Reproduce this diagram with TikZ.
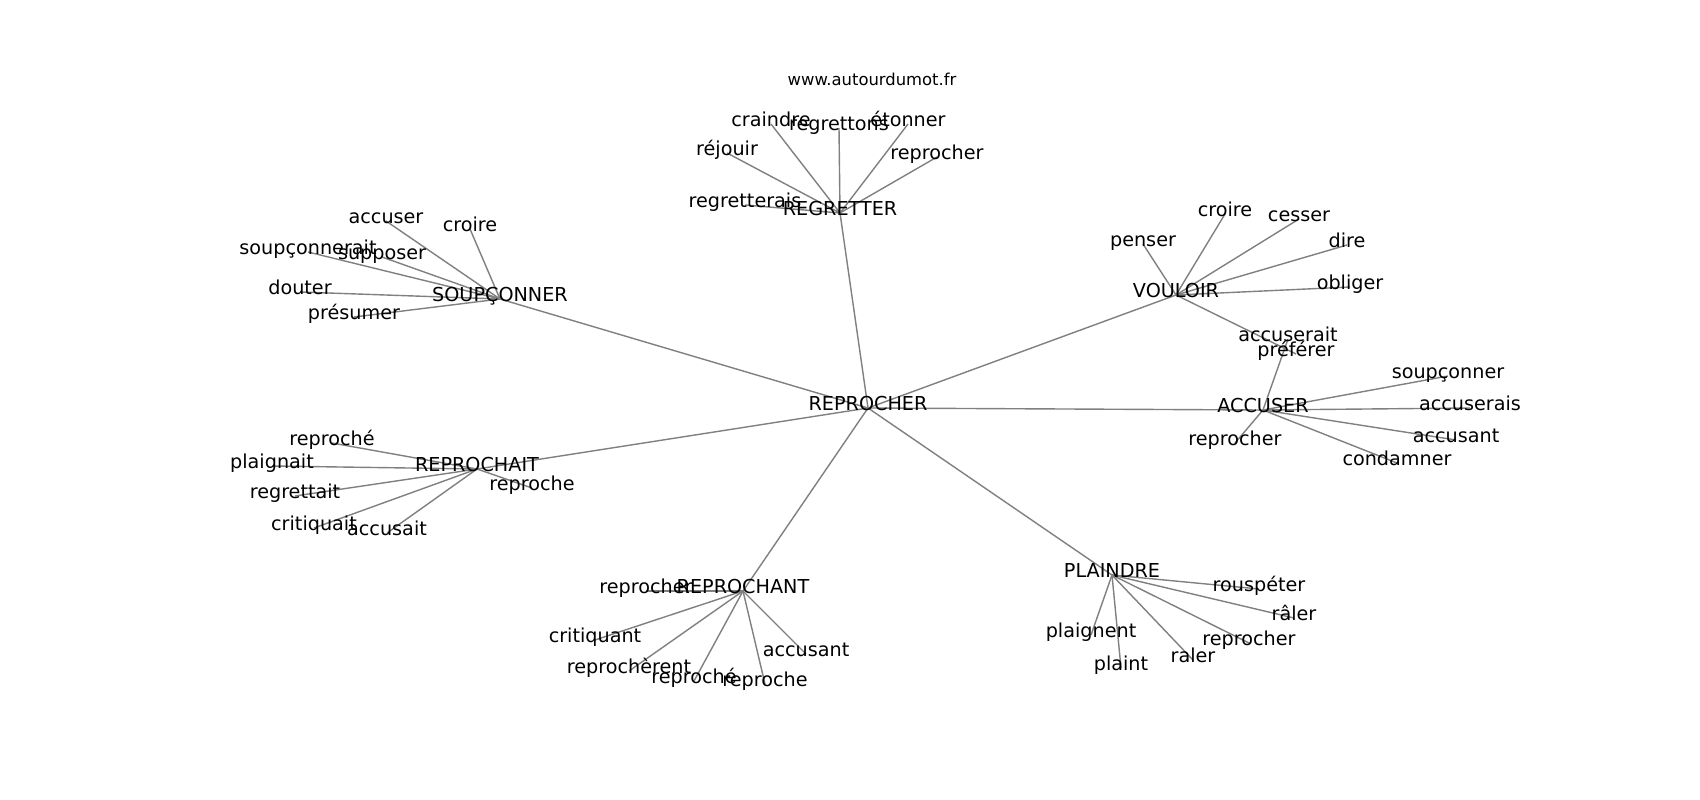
\documentclass[tikz,border=0pt]{standalone}
\usepackage{fontspec}
\setmainfont{DejaVu Sans}
\usetikzlibrary{backgrounds}
\begin{document}
\begin{tikzpicture}[x=1pt,y=-1pt,
  lbl/.style={font=\fontsize{19.2}{23}\selectfont, text height=0.75em, text depth=0.25em, inner sep=0pt, anchor=center},
  url/.style={font=\fontsize{16.4}{20}\selectfont, text height=0.75em, text depth=0.25em, inner sep=0pt, anchor=center},
  edge/.style={draw=gray, line width=1.4pt}]
\useasboundingbox (0,0) rectangle (1700,800);
% hubs
\node[lbl] (rep) at (868,408) {REPROCHER};
\node[lbl] (reg) at (840,213) {REGRETTER};
\node[lbl] (sou) at (500,299) {SOUPÇONNER};
\node[lbl] (vou) at (1176,295) {VOULOIR};
\node[lbl] (acc) at (1263,410) {ACCUSER};
\node[lbl] (pla) at (1112,575) {PLAINDRE};
\node[lbl] (rpt) at (743,591) {REPROCHANT};
\node[lbl] (rpa) at (477,469) {REPROCHAIT};
% SOUPCONNER leaves
\node[lbl] (s1) at (386,221) {accuser};
\node[lbl] (s2) at (470,229) {croire};
\node[lbl] (s3) at (308,252) {soupçonnerait};
\node[lbl] (s4) at (382,257) {supposer};
\node[lbl] (s5) at (300,292) {douter};
\node[lbl] (s6) at (354,317) {présumer};
% REGRETTER leaves
\node[lbl] (g1) at (771,124) {craindre};
\node[lbl] (g2) at (839,128) {regrettons};
\node[lbl] (g3) at (908,124) {étonner};
\node[lbl] (g4) at (727,153) {réjouir};
\node[lbl] (g5) at (937,157) {reprocher};
\node[lbl] (g6) at (745,205) {regretterais};
% VOULOIR leaves
\node[lbl] (v1) at (1143,244) {penser};
\node[lbl] (v2) at (1225,214) {croire};
\node[lbl] (v3) at (1299,219) {cesser};
\node[lbl] (v4) at (1347,245) {dire};
\node[lbl] (v5) at (1350,287) {obliger};
\node[lbl] (v6) at (1296,354) {préférer};
% ACCUSER leaves
\node[lbl] (a1) at (1288,339) {accuserait};
\node[lbl] (a2) at (1448,376) {soupçonner};
\node[lbl] (a3) at (1470,408) {accuserais};
\node[lbl] (a4) at (1456,440) {accusant};
\node[lbl] (a5) at (1397,463) {condamner};
\node[lbl] (a6) at (1235,443) {reprocher};
% REPROCHAIT leaves
\node[lbl] (r1) at (332,443) {reproché};
\node[lbl] (r2) at (272,466) {plaignait};
\node[lbl] (r3) at (295,496) {regrettait};
\node[lbl] (r4) at (314,528) {critiquait};
\node[lbl] (r5) at (387,533) {accusait};
\node[lbl] (r6) at (532,488) {reproche};
% REPROCHANT leaves
\node[lbl] (t1) at (646,591) {reprocher};
\node[lbl] (t2) at (595,640) {critiquant};
\node[lbl] (t3) at (629,671) {reprochèrent};
\node[lbl] (t4) at (694,681) {reproché};
\node[lbl] (t5) at (765,684) {reproche};
\node[lbl] (t6) at (806,654) {accusant};
% PLAINDRE leaves
\node[lbl] (p1) at (1259,589) {rouspéter};
\node[lbl] (p2) at (1294,618) {râler};
\node[lbl] (p3) at (1249,643) {reprocher};
\node[lbl] (p4) at (1193,660) {raler};
\node[lbl] (p5) at (1121,668) {plaint};
\node[lbl] (p6) at (1091,635) {plaignent};
% title
\node[url] (www) at (872,83) {www.autourdumot.fr};
\begin{scope}[on background layer]
\fill[white] (0,0) rectangle (1700,800);
\foreach \a/\b in {rep/reg,rep/sou,rep/vou,rep/acc,rep/pla,rep/rpt,rep/rpa,
  sou/s1,sou/s2,sou/s3,sou/s4,sou/s5,sou/s6,
  reg/g1,reg/g2,reg/g3,reg/g4,reg/g5,reg/g6,
  vou/v1,vou/v2,vou/v3,vou/v4,vou/v5,vou/v6,
  acc/a1,acc/a2,acc/a3,acc/a4,acc/a5,acc/a6,
  rpa/r1,rpa/r2,rpa/r3,rpa/r4,rpa/r5,rpa/r6,
  rpt/t1,rpt/t2,rpt/t3,rpt/t4,rpt/t5,rpt/t6,
  pla/p1,pla/p2,pla/p3,pla/p4,pla/p5,pla/p6}
  \draw[edge] (\a.center) -- (\b.center);
\end{scope}
\end{tikzpicture}
\end{document}
